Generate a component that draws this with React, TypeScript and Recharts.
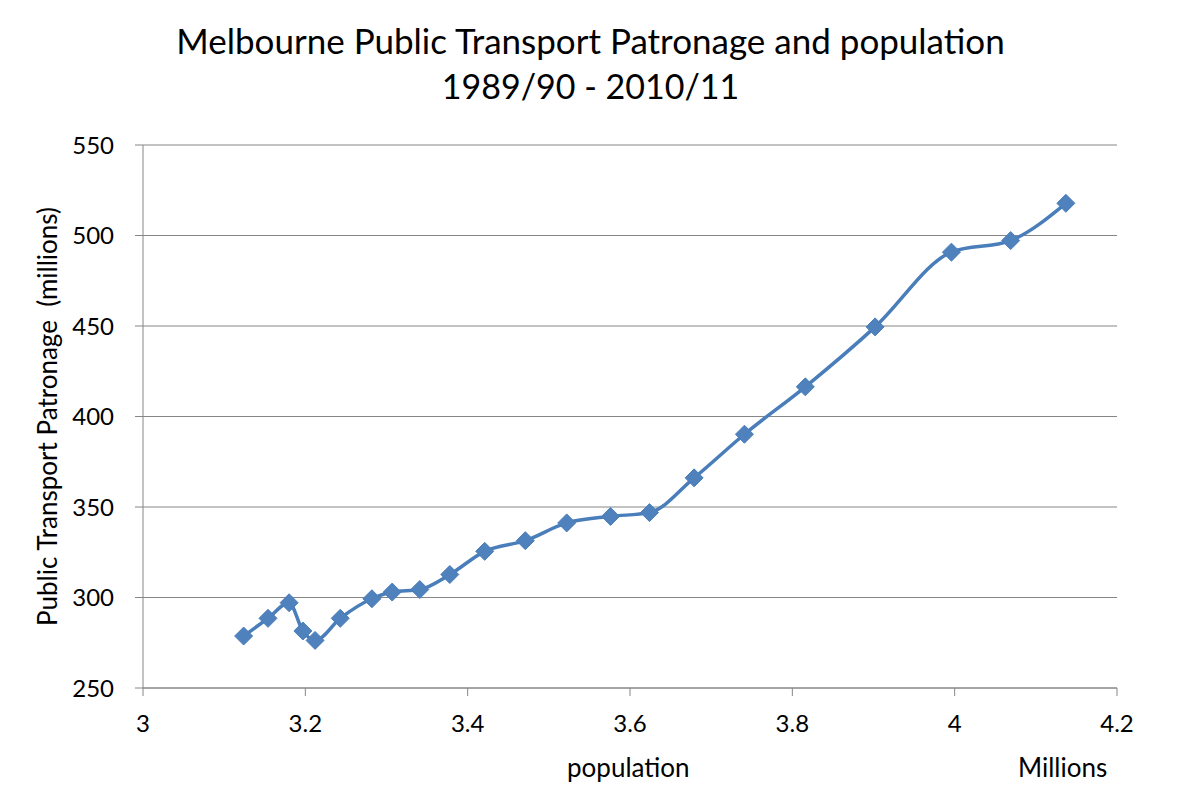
import React from "react";
import {
  LineChart,
  Line,
  XAxis,
  YAxis,
  CartesianGrid,
  Label,
} from "recharts";

// population (millions), 1989/90 .. 2010/11
const population = [
  3.124, 3.154, 3.18, 3.197, 3.212, 3.243, 3.282, 3.307, 3.341, 3.378, 3.421,
  3.471, 3.522, 3.576, 3.624, 3.679, 3.741, 3.816, 3.902, 3.996, 4.069, 4.137,
];

// patronage (millions)
const patronage = [
  278.7, 288.5, 297.1, 281.5, 276.3, 288.5, 299.3, 303, 304.4, 312.7, 325.5,
  331.4, 341.2, 344.8, 346.9, 366.1, 390.2, 416.4, 449.5, 490.8, 497.2, 517.8,
];

const xTicks = [3, 3.2, 3.4, 3.6, 3.8, 4, 4.2];
const yTicks = [250, 300, 350, 400, 450, 500, 550];

const data = population.map((p, i) => ({ pop: p, value: patronage[i] }));

const FONT = "Lato, 'Open Sans', sans-serif";
const AXIS = "#868686";
const BLUE = "#4a7ebb";

const Diamond = (props: any) => {
  const { cx, cy } = props;
  if (cx == null || cy == null) return null;
  const r = 9;
  return (
    <path
      d={`M${cx},${cy - r} L${cx + r},${cy} L${cx},${cy + r} L${cx - r},${cy} Z`}
      fill="#4f81bd"
      stroke={BLUE}
      strokeWidth={1}
    />
  );
};

export default function App() {
  return (
    <div
      style={{
        position: "absolute",
        left: 0,
        top: 0,
        width: 1181,
        height: 808,
        background: "#fff",
        fontFamily: FONT,
      }}
    >
      <div
        style={{
          position: "absolute",
          left: 0,
          width: 1181,
          top: 17,
          textAlign: "center",
          fontSize: 35,
          lineHeight: "46px",
          color: "#000",
        }}
      >
        <div>Melbourne Public Transport Patronage and population</div>
        <div style={{ fontSize: 34 }}>1989/90 - 2010/11</div>
      </div>
      <LineChart
        width={1181}
        height={808}
        data={data}
        margin={{ top: 145, right: 64, left: 83, bottom: 80 }}
      >
        <CartesianGrid vertical={false} stroke={AXIS} strokeWidth={1} />
        <XAxis
          dataKey="pop"
          type="number"
          domain={[3, 4.2]}
          ticks={xTicks}
          allowDataOverflow
          height={40}
          stroke={AXIS}
          tickSize={8}
          tickMargin={19}
          tick={{ fill: "#000", fontSize: 24, fontFamily: FONT }}
        />
        <YAxis
          type="number"
          domain={[250, 550]}
          ticks={yTicks}
          width={60}
          stroke={AXIS}
          tickSize={8}
          tickMargin={21}
          tick={{ fill: "#000", fontSize: 24, fontFamily: FONT }}
        >
          <Label
            value={"Public Transport Patronage \u00A0(millions)"}
            angle={-90}
            position="insideLeft"
            offset={-35}
            style={{ textAnchor: "middle", fill: "#000", fontSize: 26, fontFamily: FONT }}
          />
        </YAxis>
        <Line
          type="monotone"
          dataKey="value"
          stroke={BLUE}
          strokeWidth={3.5}
          dot={<Diamond />}
          activeDot={false}
          isAnimationActive={false}
        />
      </LineChart>
      <div
        style={{
          position: "absolute",
          left: 567,
          top: 751,
          fontSize: 26,
          color: "#000",
        }}
      >
        population
      </div>
      <div
        style={{
          position: "absolute",
          left: 1018,
          top: 751,
          fontSize: 26,
          color: "#000",
        }}
      >
        Millions
      </div>
    </div>
  );
}
